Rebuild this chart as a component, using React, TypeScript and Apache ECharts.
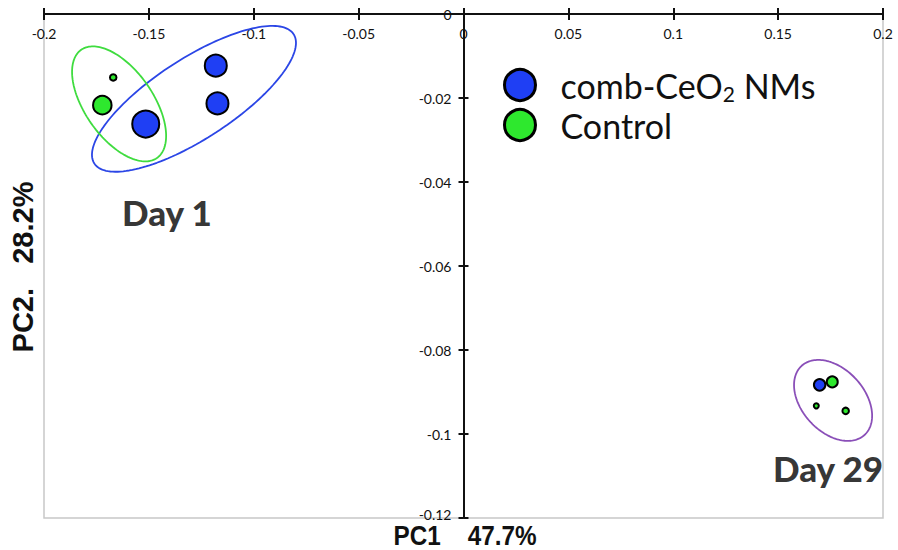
import React, { useEffect, useRef } from "react";
import * as echarts from "echarts";

// PCA scores (PC1, PC2) for each sample
const combPoints: number[][] = [
  [-0.1515, -0.0262],
  [-0.1181, -0.0123],
  [-0.1173, -0.0213],
  [0.1698, -0.0883],
];
const controlPoints: number[][] = [
  [-0.167, -0.0151],
  [-0.1722, -0.0217],
  [0.1758, -0.0876],
  [0.1682, -0.0933],
  [0.1822, -0.0945],
];
// marker diameters (px) per sample
const combSizes = [27, 22, 22, 11.5];
const controlSizes = [6.5, 18.5, 11, 5, 6.5];

// group labels and where they sit in score space
const dayLabels = ["Day 1", "Day 29"];
const dayLabelPos: number[][] = [
  [-0.1414, -0.0471],
  [0.1738, -0.1081],
];

// confidence ellipses: centre plus two semi-axis vectors, in score units
const ellipseCenters: number[][] = [
  [-0.1285, -0.0202],
  [-0.1642, -0.0214],
  [0.1762, -0.092],
];
const ellipseAxisU: number[][] = [
  [0.0475, 0.0154],
  [0.01805, -0.01288],
  [0.01497, -0.00824],
];
const ellipseAxisV: number[][] = [
  [0.01044, -0.00802],
  [-0.0133, -0.00464],
  [-0.01106, -0.005],
];
const ellipseColors = ["#2b46e6", "#3fdc3f", "#8a4fb8"];

const xRange = [-0.2, 0.2];
const yRange = [-0.12, 0];
const xStep = 0.05;
const yStep = 0.02;

const seriesNames = ["comb-CeO2 NMs", "Control"];

const WIDTH = 898;
const HEIGHT = 550;
const GRID = { left: 44, right: 15, top: 14, bottom: 32 };

function ellipsePath(c: number[], u: number[], v: number[]): number[][] {
  const pts: number[][] = [];
  const n = 160;
  for (let k = 0; k <= n; k++) {
    const t = (2 * Math.PI * k) / n;
    pts.push([
      c[0] + u[0] * Math.cos(t) + v[0] * Math.sin(t),
      c[1] + u[1] * Math.cos(t) + v[1] * Math.sin(t),
    ]);
  }
  return pts;
}

export default function App() {
  const ref = useRef<HTMLDivElement>(null);

  useEffect(() => {
    document.body.style.margin = "0";
    if (!ref.current) return;
    const chart = echarts.init(ref.current, null, { renderer: "svg" });

    const tickFont = { fontFamily: "Lato", fontSize: 14, color: "#111" };

    // the PC2 axis sits where PC1 = 0
    const plotWidth = WIDTH - GRID.left - GRID.right;
    const zeroFrac = (0 - xRange[0]) / (xRange[1] - xRange[0]);
    const yAxisOffset = -plotWidth * zeroFrac;

    const ellipseSeries = ellipseCenters.map((c, i) => ({
      type: "line",
      name: "ellipse" + i,
      data: ellipsePath(c, ellipseAxisU[i], ellipseAxisV[i]),
      showSymbol: false,
      symbol: "none",
      smooth: false,
      lineStyle: { color: ellipseColors[i], width: 1.8 },
      z: 2,
      silent: true,
    }));

    chart.setOption({
      animation: false,
      backgroundColor: "#fff",
      grid: {
        ...GRID,
        show: true,
        borderColor: "#c8c8c8",
        borderWidth: 1.5,
      },
      legend: {
        data: seriesNames,
        orient: "vertical",
        left: 498,
        top: 63,
        itemWidth: 31,
        itemHeight: 31,
        itemGap: 4,
        icon: "circle",
        itemStyle: { borderColor: "#000", borderWidth: 3 },
        textStyle: {
          fontFamily: "Lato",
          fontSize: 34,
          color: "#111",
          padding: [0, 0, 0, 20],
          rich: {
            a: { fontFamily: "Lato", fontSize: 34, color: "#111", lineHeight: 38 },
            sub: {
              fontFamily: "Lato",
              fontSize: 21,
              color: "#111",
              lineHeight: 22,
              verticalAlign: "bottom",
            },
          },
        },
        formatter: (name: string) =>
          name === "comb-CeO2 NMs"
            ? "{a|comb-CeO}{sub|2}{a| NMs}"
            : "{a|" + name + "}",
      },
      xAxis: [
        {
          type: "value",
          position: "top",
          min: xRange[0],
          max: xRange[1],
          interval: xStep,
          axisLine: { onZero: false, lineStyle: { color: "#111", width: 2 } },
          axisTick: { inside: true, length: 6, lineStyle: { color: "#111", width: 2 } },
          axisLabel: { inside: true, margin: 12, ...tickFont },
          splitLine: { show: false },
        },
        {
          type: "value",
          position: "top",
          min: xRange[0],
          max: xRange[1],
          interval: xStep,
          axisLine: { show: false, onZero: false },
          axisTick: { inside: false, length: 6, lineStyle: { color: "#111", width: 2 } },
          axisLabel: { show: false },
          splitLine: { show: false },
        },
      ],
      yAxis: [
        {
          type: "value",
          position: "left",
          offset: yAxisOffset,
          min: yRange[0],
          max: yRange[1],
          interval: yStep,
          axisLine: { onZero: false, lineStyle: { color: "#111", width: 2 } },
          axisTick: { inside: true, length: 5, lineStyle: { color: "#111", width: 2 } },
          axisLabel: {
            margin: 12,
            ...tickFont,
            // the lowest label is lifted clear of the PC1 title
            formatter: (v: number) =>
              Math.abs(v - yRange[0]) < 1e-9 ? "{low|" + v + "}" : String(v),
            rich: {
              low: { ...tickFont, padding: [0, 0, 8, 0] },
            },
          },
          splitLine: { show: false },
        },
        {
          type: "value",
          position: "left",
          offset: yAxisOffset,
          min: yRange[0],
          max: yRange[1],
          interval: yStep,
          axisLine: { show: false, onZero: false },
          axisTick: { inside: false, length: 5, lineStyle: { color: "#111", width: 2 } },
          axisLabel: { show: false },
          splitLine: { show: false },
        },
      ],
      series: [
        ...ellipseSeries,
        {
          type: "scatter",
          name: seriesNames[0],
          data: combPoints.map((p, i) => ({ value: p, symbolSize: combSizes[i] })),
          itemStyle: { color: "#1f3ff4", borderColor: "#000", borderWidth: 2, opacity: 1 },
          z: 5,
        },
        {
          type: "scatter",
          name: seriesNames[1],
          data: controlPoints.map((p, i) => ({ value: p, symbolSize: controlSizes[i] })),
          itemStyle: { color: "#2ee82e", borderColor: "#000", borderWidth: 2, opacity: 1 },
          z: 5,
        },
        {
          type: "scatter",
          name: "day labels",
          data: dayLabels.map((d, i) => ({ value: dayLabelPos[i], name: d })),
          symbolSize: 1,
          itemStyle: { color: "transparent" },
          silent: true,
          label: {
            show: true,
            position: "inside",
            formatter: (p: any) => p.name,
            fontFamily: "Lato",
            fontWeight: 900,
            fontSize: 35,
            color: "#000",
          },
          z: 6,
        },
      ],
      graphic: [
        {
          type: "text",
          x: 465,
          y: 536,
          scaleX: 0.9,
          style: {
            text: "PC1    47.7%",
            font: "bold 27px 'Liberation Sans'",
            fill: "#111",
            textAlign: "center",
            textVerticalAlign: "middle",
          },
        },
        {
          type: "text",
          x: 23,
          y: 267,
          rotation: Math.PI / 2,
          style: {
            text: "PC2.   28.2%",
            font: "bold 29px 'Liberation Sans'",
            fill: "#111",
            textAlign: "center",
            textVerticalAlign: "middle",
          },
        },
      ],
    });

    return () => chart.dispose();
  }, []);

  return <div ref={ref} style={{ width: WIDTH, height: HEIGHT }} />;
}
